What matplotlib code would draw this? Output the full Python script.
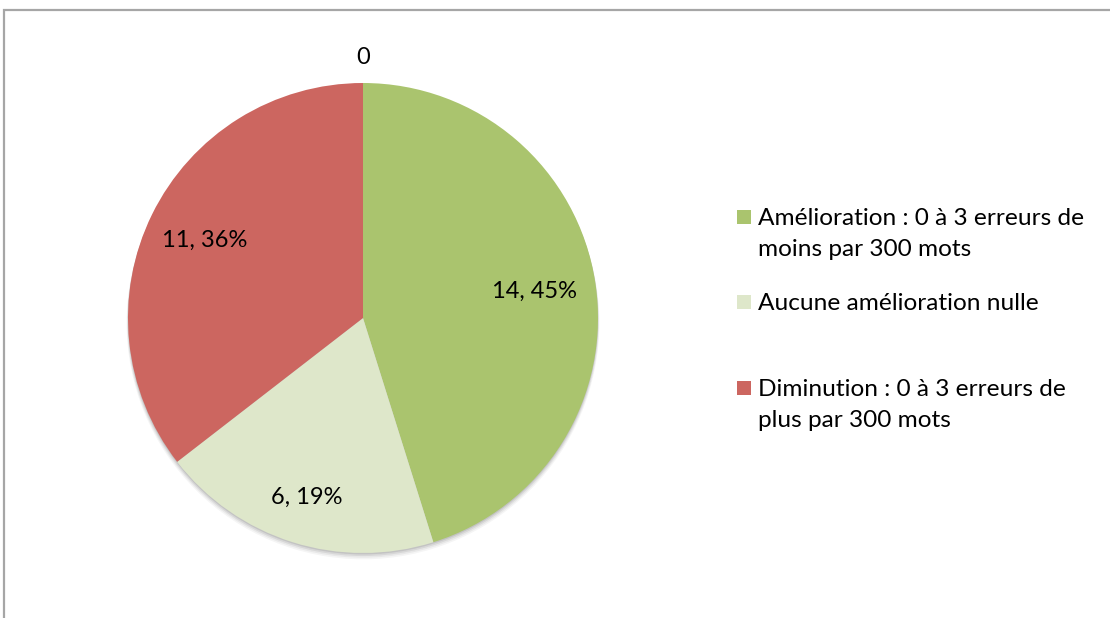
import matplotlib
matplotlib.use("Agg")
import matplotlib.pyplot as plt
from matplotlib.patches import Rectangle, Circle
import numpy as np

# Data
categories = [
    "Amélioration : 0 à 3 erreurs de\nmoins par 300 mots",
    "Aucune amélioration nulle",
    "Diminution : 0 à 3 erreurs de\nplus par 300 mots",
    "",
]
counts = [14, 6, 11, 0]
pct_labels = ["45%", "19%", "36%", ""]
colors = ["#AAC46E", "#DEE7CA", "#CC6660", "#4F81BD"]

plt.rcParams["font.family"] = ["Lato", "DejaVu Sans"]

W, H = 1110, 618
fig = plt.figure(figsize=(W / 100, H / 100), dpi=100)

# Chart frame (left and top edges visible)
fig.patches.append(Rectangle((4 / W, -0.1), 1.2, 1 - 10 / H + 0.1,
                             transform=fig.transFigure, fill=False,
                             edgecolor="#A6A6A6", linewidth=1.6))

cx, cy, r = 363, 318, 235
ax = fig.add_axes([(cx - r) / W, (H - cy - r) / H, 2 * r / W, 2 * r / H])
ax.axis("off")

# Soft shadow under the pie
for k, a in enumerate([0.04, 0.05, 0.07, 0.09]):
    ax.add_patch(Circle((0.0, -0.006 - 0.005 * (3 - k)), 1.0 + 0.002 * (3 - k),
                        color="#000000", alpha=a, lw=0, zorder=0, clip_on=False))

wedges, _ = ax.pie(counts, colors=colors, startangle=90, counterclock=False,
                   radius=1.0, center=(0, 0), frame=False,
                   wedgeprops=dict(linewidth=0))
ax.set_xlim(-1, 1)
ax.set_ylim(-1, 1)
ax.set_aspect("auto")
for w in wedges:
    w.set_zorder(2)

dists = [0.74, 0.80, 0.75, 1.11]
for w, c, p, d in zip(wedges, counts, pct_labels, dists):
    mid = np.deg2rad((w.theta1 + w.theta2) / 2)
    txt = f"{c}, {p}" if p else f"{c}"
    ax.text(d * np.cos(mid), d * np.sin(mid), txt, ha="center", va="center",
            fontsize=17, color="#000000", zorder=3, clip_on=False)

# Legend
leg_items = [(0, 218), (1, 303), (2, 389)]
for idx, ytop in leg_items:
    fig.patches.append(Rectangle((737 / W, (H - ytop - 6) / H), 14 / W, 14 / H,
                                 transform=fig.transFigure,
                                 facecolor=colors[idx], edgecolor="none"))
    fig.text(758 / W, (H - ytop + 10) / H, categories[idx], ha="left", va="top",
             fontsize=17.6, color="#000000", linespacing=1.6)

fig.savefig("out.png", dpi=100, facecolor="white")
